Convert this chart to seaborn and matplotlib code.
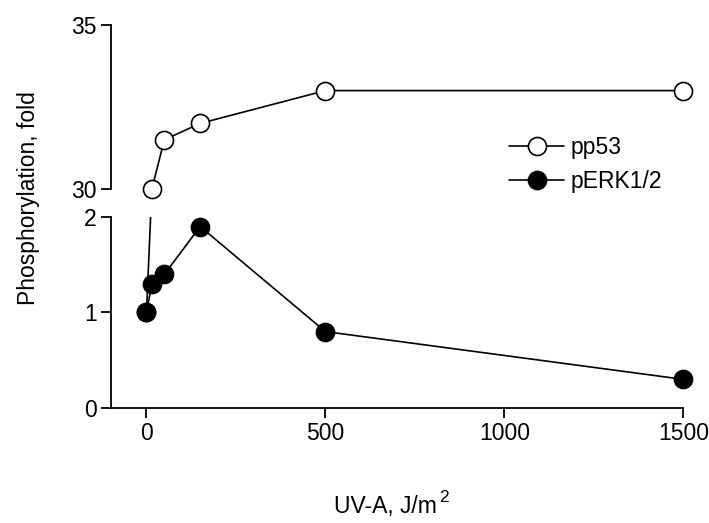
import matplotlib
matplotlib.use("Agg")
import matplotlib.pyplot as plt
from matplotlib.lines import Line2D
import seaborn as sns
import pandas as pd
import numpy as np

# Data
dose = [0, 15, 50, 150, 500, 1500]
pp53 = [1.0, 30.0, 31.5, 32.0, 33.0, 33.0]
perk = [1.0, 1.3, 1.4, 1.9, 0.8, 0.3]
series_names = ["pp53", "pERK1/2"]
x_ticks = [0, 500, 1000, 1500]
low_ticks = [0, 1, 2]
high_ticks = [30, 35]

sns.set_theme(style="ticks")
plt.rcParams['font.family'] = ['Liberation Sans', 'DejaVu Sans']
plt.rcParams['text.color'] = 'black'
plt.rcParams['axes.labelcolor'] = 'black'

FS = 16.5
LW = 1.2
MS = 13

fig = plt.figure(figsize=(7.09, 5.23), dpi=100)
ax_lo = fig.add_axes([0.1561, 0.2199, 0.8076, 0.3652])
ax_hi = fig.add_axes([0.1561, 0.6386, 0.8076, 0.3136])
ranges = {ax_lo: (0, 2), ax_hi: (30, 35)}
for ax, (ylo, yhi) in ranges.items():
    ax.set_xlim(-100, 1500)
    ax.set_ylim(ylo, yhi)


def home_axis(v):
    return ax_lo if v <= 2 else ax_hi


def to_axis(ax, xs, ys):
    """Express each point in the data coords of `ax` via display space,
    so lines are continuous across the broken axis."""
    out = []
    for x, y in zip(xs, ys):
        disp = home_axis(y).transData.transform((x, y))
        out.append(ax.transData.inverted().transform(disp))
    out = np.array(out)
    return pd.DataFrame({"dose": out[:, 0], "val": out[:, 1]})


for ax, (ylo, yhi) in ranges.items():
    ticks = low_ticks if ax is ax_lo else high_ticks
    # pp53
    d = to_axis(ax, dose, pp53)
    sns.lineplot(data=d, x="dose", y="val", ax=ax, color="black", lw=LW,
                 sort=False, estimator=None, zorder=2)
    sub = [(x, y) for x, y in zip(dose, pp53) if ylo <= y <= yhi]
    if sub:
        sx, sy = zip(*sub)
        ax.plot(sx, sy, ls="none", marker="o", ms=MS, mfc="white",
                mec="black", mew=LW, clip_on=False, zorder=3)
    # pERK
    d = to_axis(ax, dose, perk)
    sns.lineplot(data=d, x="dose", y="val", ax=ax, color="black", lw=LW,
                 sort=False, estimator=None, zorder=4)
    sub = [(x, y) for x, y in zip(dose, perk) if ylo <= y <= yhi]
    if sub:
        sx, sy = zip(*sub)
        ax.plot(sx, sy, ls="none", marker="o", ms=MS, mfc="black",
                mec="black", mew=LW, clip_on=False, zorder=5)
    ax.set_xlim(-100, 1500)
    ax.set_ylim(ylo, yhi)
    ax.set_yticks(ticks)
    ax.set_xlabel("")
    ax.set_ylabel("")
    ax.tick_params(axis="both", labelsize=FS, length=7, width=1.3, pad=3,
                   direction="out", colors="black")
    for s in ["top", "right"]:
        ax.spines[s].set_visible(False)
    ax.spines["left"].set_linewidth(1.3)
    ax.spines["bottom"].set_linewidth(1.3)
    ax.spines["left"].set_color("black")
    ax.spines["bottom"].set_color("black")
    ax.patch.set_alpha(0)

ax_lo.set_xticks(x_ticks)
ax_hi.spines["bottom"].set_visible(False)
ax_hi.set_xticks([])

fig.text(0.040, 0.621, "Phosphorylation, fold", rotation=90, ha="center",
         va="center", fontsize=FS)
fig.text(437 / 709, 0.019, "UV-A, J/m", ha="right", va="baseline",
         fontsize=FS)
fig.text(439 / 709, 0.040, "2", ha="left", va="baseline", fontsize=12.5)

handles = [
    Line2D([], [], color="black", lw=LW, marker="o", ms=MS, mfc="white", mec="black", mew=LW),
    Line2D([], [], color="black", lw=LW, marker="o", ms=MS, mfc="black", mec="black", mew=LW),
]
fig.legend(handles, series_names, loc="center left", bbox_to_anchor=(0.705, 0.685),
           frameon=False, fontsize=FS, handlelength=2.4, handletextpad=0.3,
           labelspacing=0.5, borderaxespad=0)

fig.savefig("out.png", dpi=100)
